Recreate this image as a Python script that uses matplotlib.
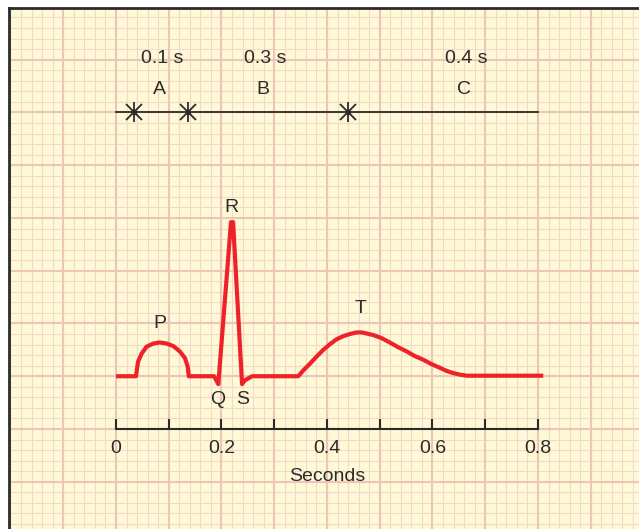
import numpy as np
import matplotlib
matplotlib.use("Agg")
import matplotlib.pyplot as plt
from matplotlib import font_manager

# pick a narrow sans if one is installed
names = {f.name for f in font_manager.fontManager.ttflist}
family = "Liberation Sans Narrow" if "Liberation Sans Narrow" in names else "Liberation Sans"
plt.rcParams["font.family"] = [family, "DejaVu Sans"]

# ECG trace (time in s, amplitude in grid blocks)
ecg_t = [0.0, 0.038, 0.040, 0.042, 0.0487, 0.058, 0.071, 0.083, 0.096, 0.109,
         0.121, 0.131, 0.136, 0.138, 0.186, 0.194, 0.218, 0.222, 0.239,
         0.244, 0.258, 0.3456, 0.355, 0.368, 0.380, 0.393, 0.406, 0.418,
         0.431, 0.4436, 0.456, 0.466, 0.475, 0.488, 0.504, 0.519, 0.535,
         0.551, 0.567, 0.583, 0.598, 0.614, 0.627, 0.639, 0.652, 0.665, 0.810]
ecg_v = [1.0, 1.0, 1.15, 1.28, 1.43, 1.56, 1.62, 1.64, 1.62, 1.57,
         1.47, 1.34, 1.18, 1.0, 1.0, 0.85, 3.92, 3.92, 0.85,
         0.92, 1.0, 1.0, 1.11, 1.24, 1.37, 1.50, 1.61, 1.70,
         1.76, 1.80, 1.83, 1.83, 1.81, 1.78, 1.72, 1.64, 1.55,
         1.47, 1.38, 1.31, 1.23, 1.16, 1.10, 1.06, 1.03, 1.01, 1.01]

wave_names = ["P", "Q", "R", "S", "T"]
wave_x = [0.083, 0.192, 0.218, 0.241, 0.463]
wave_y = [1.99, 0.55, 4.19, 0.55, 2.29]

# interval markers along the top line
marks = [0.035, 0.136, 0.439]
seg_names = ["A", "B", "C"]
seg_times = ["0.1 s", "0.3 s", "0.4 s"]
seg_x = [0.087, 0.282, 0.664]

ticks = [0, 0.1, 0.2, 0.3, 0.4, 0.5, 0.6, 0.7, 0.8]
tick_labels = ["0", "", "0.2", "", "0.4", "", "0.6", "", "0.8"]

ink = "#2b2b2b"
red = "#ee2229"

fig = plt.figure(figsize=(6.39, 5.29), dpi=100, facecolor="white")
ax = fig.add_axes([9 / 639, 0, 630 / 639, 521 / 529])
ax.set_facecolor("#fff9d6")
ax.set_xlim(-0.2028, 0.9915)
ax.set_ylim(-1.896, 7.98)

# ecg paper grid
ax.vlines(np.arange(-0.2, 1.0, 0.02), -2, 8, color="#f4d8c9", lw=0.8, zorder=0)
ax.hlines(np.arange(-1.8, 8.0, 0.2), -0.3, 1.0, color="#f4d8c9", lw=0.8, zorder=0)
ax.vlines(np.arange(-0.2, 1.0, 0.1), -2, 8, color="#ecc6b9", lw=1.5, zorder=0)
ax.hlines(np.arange(-1, 8, 1), -0.3, 1.0, color="#ecc6b9", lw=1.5, zorder=0)

# time axis on the bottom spine, moved up to y = 0
ax.spines["right"].set_visible(False)
ax.spines["top"].set_color(ink)
ax.spines["top"].set_linewidth(2)
ax.spines["left"].set_color(ink)
ax.spines["left"].set_linewidth(2)
ax.spines["bottom"].set_position(("data", 0))
ax.spines["bottom"].set_bounds(0, 0.8)
ax.spines["bottom"].set_color(ink)
ax.spines["bottom"].set_linewidth(1.5)
ax.set_xticks(ticks)
ax.set_xticklabels(tick_labels)
ax.tick_params(axis="x", direction="in", length=7, width=1.5, color=ink,
               labelcolor=ink, labelsize=14, pad=8)
ax.tick_params(axis="y", left=False, labelleft=False)
ax.text(0.4, -0.9, "Seconds", ha="center", va="center", fontsize=14, color=ink)

# interval line
ax.plot([0, 0.8], [6, 6], color=ink, lw=1.3)
ax.plot(marks, [6] * len(marks), ls="none", marker="x", ms=12, mew=1.3, color=ink)
ax.plot(marks, [6] * len(marks), ls="none", marker="|", ms=14, mew=1.3, color=ink)
ax.plot(marks, [6] * len(marks), ls="none", marker="o", ms=3, color=ink)
for x, n, t in zip(seg_x, seg_names, seg_times):
    ax.text(x, 7.03, t, ha="center", va="center", fontsize=14, color=ink)
    ax.text(x - 0.004, 6.43, n, ha="center", va="center", fontsize=14, color=ink)

# trace and wave letters
ax.plot(ecg_t, ecg_v, color=red, lw=3, solid_joinstyle="round", solid_capstyle="butt")
for n, x, y in zip(wave_names, wave_x, wave_y):
    ax.text(x, y, n, ha="center", va="center", fontsize=14, color=ink)

fig.savefig("out.png", dpi=100, facecolor="white")
